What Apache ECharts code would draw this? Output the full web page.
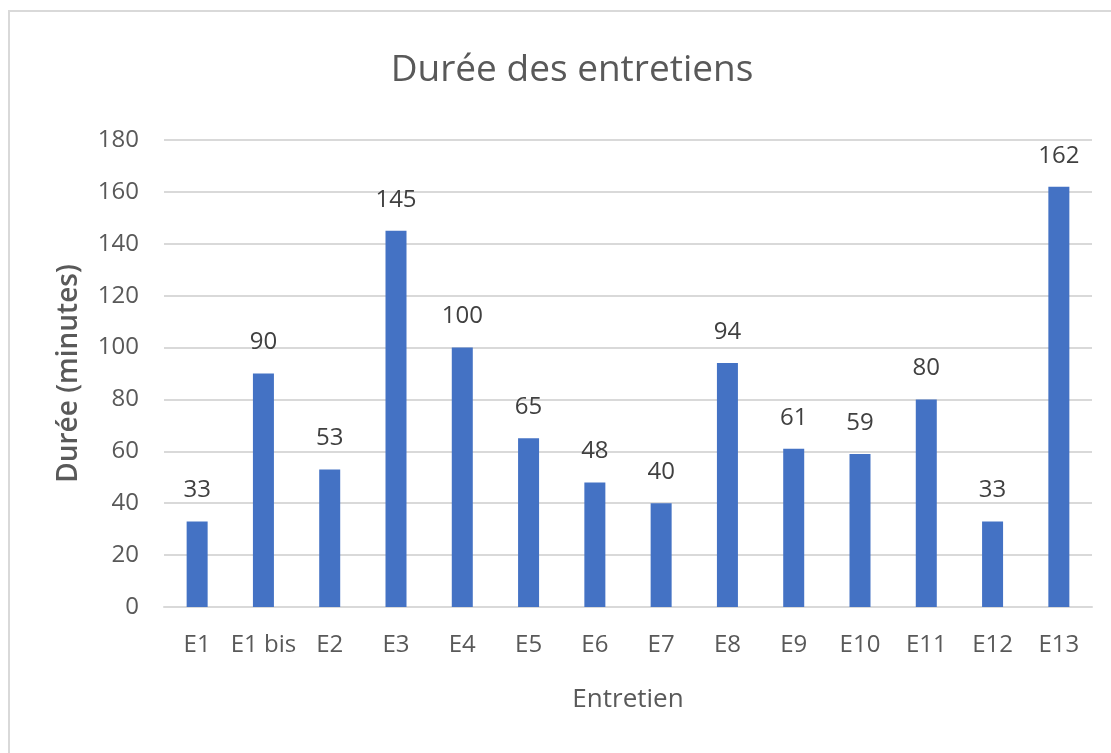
<!DOCTYPE html>
<html lang="fr">
<head>
  <meta charset="UTF-8">
  <title>Durée des entretiens</title>
  <script src="https://cdn.jsdelivr.net/npm/echarts@6.0.0/dist/echarts.min.js"></script>
  <style>
    html, body { margin: 0; padding: 0; background: #fff; }
    #chart { width: 1111px; height: 753px; }
  </style>
</head>
<body>
  <div id="chart"></div>
  <script>
    // données
    const categories = ['E1', 'E1 bis', 'E2', 'E3', 'E4', 'E5', 'E6', 'E7', 'E8', 'E9', 'E10', 'E11', 'E12', 'E13'];
    const durees = [33, 90, 53, 145, 100, 65, 48, 40, 94, 61, 59, 80, 33, 162];

    const font = '"Open Sans", Lato, sans-serif';
    const chart = echarts.init(document.getElementById('chart'));
    chart.setOption({
      backgroundColor: '#fff',
      animation: false,
      textStyle: { fontFamily: font },
      graphic: [{
        type: 'rect',
        shape: { x: 9, y: 11, width: 1130, height: 760 },
        style: { fill: 'none', stroke: '#d9d9d9', lineWidth: 2 },
        silent: true
      }],
      title: {
        text: 'Durée des entretiens',
        left: 567, top: 47, textAlign: 'center',
        textStyle: { fontFamily: font, fontSize: 37, fontWeight: 'normal', color: '#595959' }
      },
      grid: { left: 164, right: 19, top: 140, bottom: 146 },
      xAxis: {
        type: 'category',
        data: categories,
        name: 'Entretien',
        nameLocation: 'middle',
        nameGap: 80,
        nameTextStyle: { fontSize: 26, color: '#595959', fontFamily: font },
        axisLine: { lineStyle: { color: '#d9d9d9', width: 2 } },
        axisTick: { show: false },
        axisLabel: { interval: 0, fontSize: 24, color: '#595959', margin: 26 }
      },
      yAxis: {
        type: 'value',
        min: 0, max: 180, interval: 20,
        name: 'Durée (minutes)',
        nameLocation: 'middle',
        nameGap: 81,
        nameTextStyle: { fontSize: 28, color: '#595959', fontWeight: 600, fontFamily: font },
        axisLine: { show: false },
        axisTick: { show: false },
        splitLine: { lineStyle: { color: '#d9d9d9', width: 2 } },
        axisLabel: { fontSize: 24, color: '#595959', margin: 25 }
      },
      series: [{
        type: 'bar',
        data: durees,
        barWidth: 21,
        itemStyle: { color: '#4472c4' },
        label: { show: true, position: 'top', distance: 19, fontSize: 24, color: '#404040', fontFamily: font }
      }]
    });
  </script>
</body>
</html>
